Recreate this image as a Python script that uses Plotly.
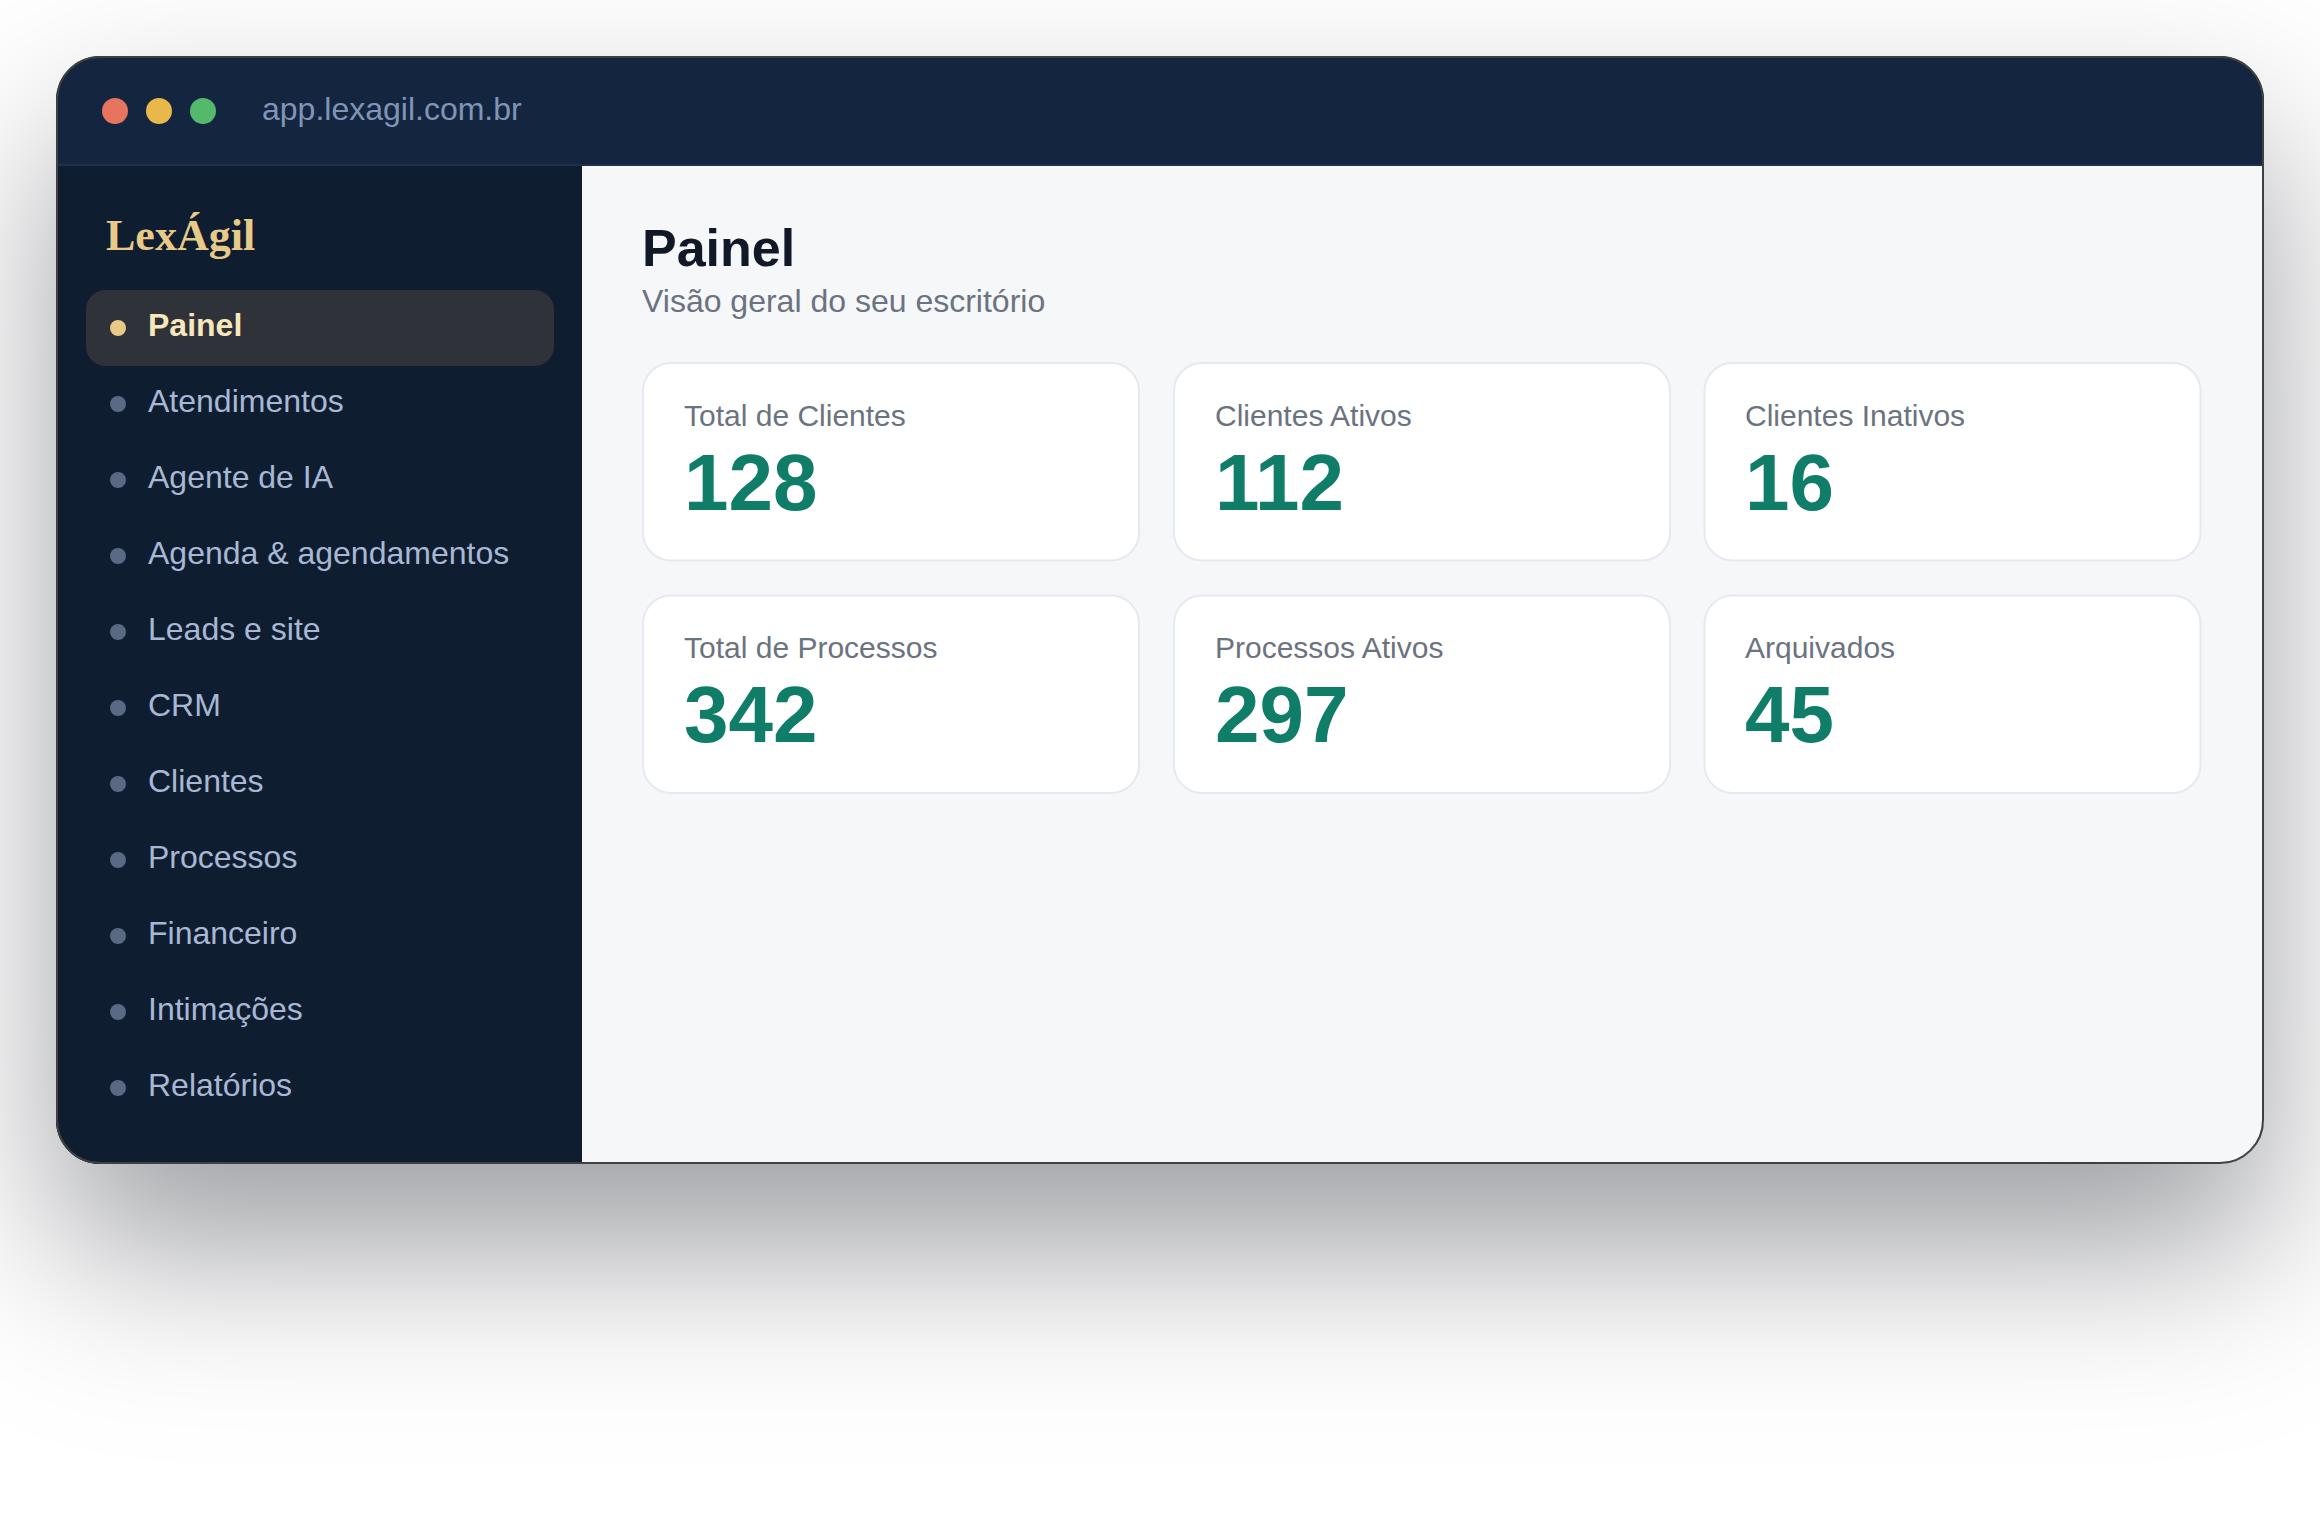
import math

import numpy as np
import plotly.graph_objects as go

# Dashboard mockup: browser window with sidebar and KPI cards, in page pixels

url_text = "app.lexagil.com.br"
logo_text = "LexÁgil"
page_title = "Painel"
page_subtitle = "Visão geral do seu escritório"
nav_items = [
    "Painel",
    "Atendimentos",
    "Agente de IA",
    "Agenda & agendamentos",
    "Leads e site",
    "CRM",
    "Clientes",
    "Processos",
    "Financeiro",
    "Intimações",
    "Relatórios",
]
card_labels = [
    "Total de Clientes",
    "Clientes Ativos",
    "Clientes Inativos",
    "Total de Processos",
    "Processos Ativos",
    "Arquivados",
]
card_values = [128, 112, 16, 342, 297, 45]
traffic_colors = ["#e8735f", "#e9b84a", "#55b96b"]

W, H = 2320, 1520
WIN = (56, 56, 2264, 1164)
TITLE_BOTTOM = 166
SIDE_RIGHT = 582
SANS = "Liberation Sans"
SERIF = "Liberation Serif"
K = 0.5523


def rounded(x0, y0, x1, y1, tl=0, tr=0, br=0, bl=0):
    # plotly shape paths have no arc command, so corners are beziers
    p = f"M{x0 + tl},{y0} L{x1 - tr},{y0} "
    if tr:
        p += f"C{x1 - tr + K * tr},{y0} {x1},{y0 + tr - K * tr} {x1},{y0 + tr} "
    p += f"L{x1},{y1 - br} "
    if br:
        p += f"C{x1},{y1 - br + K * br} {x1 - br + K * br},{y1} {x1 - br},{y1} "
    p += f"L{x0 + bl},{y1} "
    if bl:
        p += f"C{x0 + bl - K * bl},{y1} {x0},{y1 - bl + K * bl} {x0},{y1 - bl} "
    p += f"L{x0},{y0 + tl} "
    if tl:
        p += f"C{x0},{y0 + tl - K * tl} {x0 + tl - K * tl},{y0} {x0 + tl},{y0} "
    return p + "Z"


def path_shape(path, fill=None, line=None, width=0):
    return dict(
        type="path",
        path=path,
        fillcolor=fill if fill else "rgba(0,0,0,0)",
        line=dict(color=line if line else "rgba(0,0,0,0)", width=width),
        xref="x",
        yref="y",
    )


def circle(cx, cy, d, color):
    return dict(
        type="circle",
        x0=cx - d / 2,
        x1=cx + d / 2,
        y0=cy - d / 2,
        y1=cy + d / 2,
        fillcolor=color,
        line=dict(width=0),
        xref="x",
        yref="y",
    )


def label(x, baseline, text, size, color, family=SANS, weight=400):
    # annotations centre on the line box, baseline sits about 0.33em under it
    return dict(
        x=x - 1.5,
        y=baseline - size * 0.33,
        xref="x",
        yref="y",
        text=text,
        showarrow=False,
        xanchor="left",
        yanchor="middle",
        align="left",
        borderpad=0,
        font=dict(family=family, size=size, color=color, weight=weight),
    )


# drop shadow, a blurred rectangle
sigma = 84
shadow_drop = 84
shadow_alpha = 0.41
phi = np.vectorize(lambda v: 0.5 * (1 + math.erf(v / math.sqrt(2))))
xs = np.arange(0, W + 4, 4)
ys = np.arange(0, H + 4, 4)
ax = phi((xs - WIN[0]) / sigma) - phi((xs - WIN[2]) / sigma)
ay = phi((ys - WIN[1] - shadow_drop) / sigma) - phi((ys - WIN[3] - shadow_drop) / sigma)
shadow = shadow_alpha * np.outer(ay, ax)

fig = go.Figure(
    go.Heatmap(
        x=xs,
        y=ys,
        z=shadow,
        zmin=0,
        zmax=1,
        zsmooth="best",
        colorscale=[[0, "#ffffff"], [1, "#0f121c"]],
        showscale=False,
        hoverinfo="skip",
    )
)

shapes = []
annotations = []

# window frame
x0, y0, x1, y1 = WIN
shapes.append(path_shape(rounded(x0, y0, x1, y1, 44, 44, 44, 44), fill="#14263f"))
shapes.append(path_shape(rounded(x0, TITLE_BOTTOM, SIDE_RIGHT, y1, bl=44), fill="#0f1d31"))
shapes.append(path_shape(rounded(SIDE_RIGHT, TITLE_BOTTOM, x1, y1, br=44), fill="#f6f7f9"))
shapes.append(path_shape(rounded(x0 + 2, TITLE_BOTTOM - 2, x1 - 2, TITLE_BOTTOM), fill="#1f3149"))
shapes.append(path_shape(rounded(x0 + 1, y0 + 1, x1 - 1, y1 - 1, 43, 43, 43, 43), line="#404040", width=2))

# title bar
for cx, color in zip([115, 159, 203], traffic_colors):
    shapes.append(circle(cx, 111, 26, color))
annotations.append(label(262, 120, url_text, 32, "#7f95b7"))

# sidebar
annotations.append(label(106, 250, logo_text, 44, "#e8c987", family=SERIF, weight=700))
shapes.append(path_shape(rounded(86, 290, 554, 366, 20, 20, 20, 20), fill="#2f3238"))
for i, item in enumerate(nav_items):
    active = i == 0
    shapes.append(circle(118, 328 + 76 * i, 16, "#e8c987" if active else "#5a6a85"))
    annotations.append(
        label(
            148,
            336 + 76 * i,
            item,
            32,
            "#f8e6bc" if active else "#a8b8d4",
            weight=700 if active else 400,
        )
    )

# heading
annotations.append(label(642, 265, page_title, 52, "#111827", weight=700))
annotations.append(label(642, 312, page_subtitle, 32, "#6b7280"))

# KPI cards
card_w, card_h = 498, 199.5
card_xs = [642, 1173, 1703.5]
card_ys = [362, 594.5]
value_baselines = [509, 740.5]
for n, (name, value) in enumerate(zip(card_labels, card_values)):
    cx = card_xs[n % 3]
    cy = card_ys[n // 3]
    shapes.append(
        path_shape(
            rounded(cx + 1, cy + 1, cx + card_w - 1, cy + card_h - 1, 28, 28, 28, 28),
            fill="#ffffff",
            line="#e7e9f0",
            width=2,
        )
    )
    annotations.append(label(cx + 42, cy + 63, name, 30, "#6b7280"))
    annotations.append(label(cx + 42, value_baselines[n // 3], str(value), 80, "#0f7d67", weight=700))

fig.update_layout(
    width=W,
    height=H,
    margin=dict(l=0, r=0, t=0, b=0),
    paper_bgcolor="#ffffff",
    plot_bgcolor="#ffffff",
    showlegend=False,
    shapes=shapes,
    annotations=annotations,
    xaxis=dict(range=[0, W], visible=False, fixedrange=True),
    yaxis=dict(range=[H, 0], visible=False, fixedrange=True),
)

fig.write_html(
    "out.html",
    config={"displayModeBar": False},
    post_script="document.body.style.margin='0';document.body.style.overflow='hidden';",
)
